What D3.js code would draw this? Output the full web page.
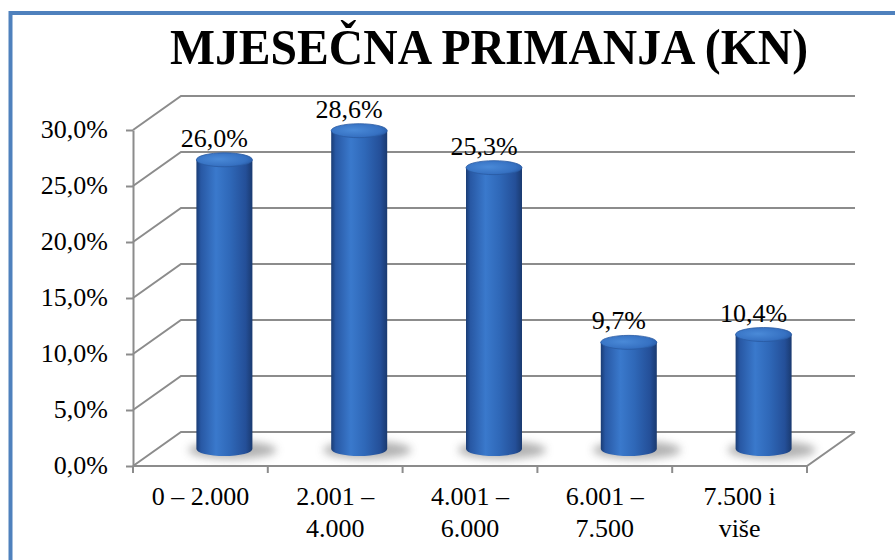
<!DOCTYPE html>
<html>
<head>
<meta charset="utf-8">
<script src="https://cdn.jsdelivr.net/npm/d3@7"></script>
<style>
  body { margin: 0; background: #fff; }
</style>
</head>
<body>
<script>
var categories = ['0 – 2.000', '2.001 – 4.000', '4.001 – 6.000', '6.001 – 7.500', '7.500 i više'];
var labelLines = [['0 – 2.000'], ['2.001 –', '4.000'], ['4.001 –', '6.000'], ['6.001 –', '7.500'], ['7.500 i', 'više']];
var values = [26.0, 28.6, 25.3, 9.7, 10.4];
var yTicks = [0, 5, 10, 15, 20, 25, 30];

var W = 895, H = 560;
var dx = 48, dy = -34;          // depth of the 3d box
var gridColor = '#8c8c8c';
var serif = 'Liberation Serif';
var fs = 26;

var fmt = function(v) { return v.toFixed(1).replace('.', ',') + '%'; };

var x = d3.scaleBand()
    .domain(categories)
    .range([133, 807])
    .padding(0);

var y = d3.scaleLinear()
    .domain([0, 30])
    .range([466, 130]);

var svg = d3.select('body')
    .append('svg')
    .attr('width', W)
    .attr('height', H)
    .attr('font-family', serif);

var defs = svg.append('defs');

var bodyGrad = defs.append('linearGradient')
    .attr('id', 'cyl')
    .attr('x1', 0).attr('x2', 1).attr('y1', 0).attr('y2', 0);
[[0, '#1a3c74'], [0.08, '#2858a4'], [0.35, '#3a79cc'], [0.6, '#2f68b8'], [0.88, '#244f98'], [1, '#1a3a70']]
    .forEach(function(s) { bodyGrad.append('stop').attr('offset', s[0]).attr('stop-color', s[1]); });

var topGrad = defs.append('radialGradient')
    .attr('id', 'cyltop')
    .attr('cx', 0.4).attr('cy', 0.45).attr('r', 0.7);
[[0, '#4a8ad8'], [0.7, '#3671c2'], [1, '#24549e']]
    .forEach(function(s) { topGrad.append('stop').attr('offset', s[0]).attr('stop-color', s[1]); });

defs.append('filter')
    .attr('id', 'blur')
    .attr('x', '-50%').attr('y', '-100%').attr('width', '200%').attr('height', '300%')
    .append('feGaussianBlur')
    .attr('stdDeviation', 4);

// frame
svg.append('path')
    .attr('d', 'M10.5,' + H + 'V13H' + W)
    .attr('fill', 'none')
    .attr('stroke', '#4f81bd')
    .attr('stroke-width', 4);

// title
svg.append('text')
    .attr('x', 489)
    .attr('y', 64)
    .attr('text-anchor', 'middle')
    .attr('font-family', serif)
    .attr('font-size', 50)
    .attr('font-weight', 'bold')
    .attr('textLength', 638)
    .attr('lengthAdjust', 'spacingAndGlyphs')
    .text('MJESEČNA PRIMANJA (KN)');

var x0 = x.range()[0], x1 = x.range()[1];

// back wall gridlines + side wall diagonals
var grid = svg.append('g')
    .attr('fill', 'none')
    .attr('stroke', gridColor)
    .attr('stroke-width', 2);

grid.selectAll('path.g')
    .data(yTicks)
    .enter()
    .append('path')
    .attr('class', 'g')
    .attr('d', function(d) {
        return 'M' + x0 + ',' + y(d) + 'L' + (x0 + dx) + ',' + (y(d) + dy) + 'H' + (x1 + dx);
    });

// floor
grid.append('path')
    .attr('d', 'M' + x0 + ',' + y(0) + 'H' + x1 + 'L' + (x1 + dx) + ',' + (y(0) + dy));

// y axis
var yAxis = svg.append('g')
    .attr('transform', 'translate(' + x0 + ',0)')
    .call(d3.axisLeft(y).tickValues(yTicks).tickFormat(fmt).tickSize(7).tickSizeOuter(0).tickPadding(18));

yAxis.attr('font-family', serif).attr('font-size', fs);
yAxis.select('.domain').attr('stroke', gridColor).attr('stroke-width', 2);
yAxis.selectAll('.tick line').attr('stroke', gridColor).attr('stroke-width', 2);
yAxis.selectAll('.tick text')
    .attr('font-family', serif)
    .attr('font-size', fs)
    .attr('fill', '#000')
    .attr('dy', '0.3em');

// x axis ticks at band edges
var edges = categories.map(function(c) { return x(c); }).concat([x1]);
svg.append('g')
    .selectAll('line')
    .data(edges)
    .enter()
    .append('line')
    .attr('x1', function(d) { return d; })
    .attr('x2', function(d) { return d; })
    .attr('y1', y(0))
    .attr('y2', y(0) + 7)
    .attr('stroke', gridColor)
    .attr('stroke-width', 2);

// category labels
var catLabels = svg.append('g')
    .selectAll('text')
    .data(categories)
    .enter()
    .append('text')
    .attr('text-anchor', 'middle')
    .attr('font-family', serif)
    .attr('font-size', fs)
    .attr('y', 505);

catLabels.selectAll('tspan')
    .data(function(d, i) { return labelLines[i].map(function(l) { return { c: d, t: l }; }); })
    .enter()
    .append('tspan')
    .attr('x', function(d) { return x(d.c) + x.bandwidth() / 2; })
    .attr('dy', function(d, i) { return i === 0 ? 0 : 32; })
    .text(function(d) { return d.t; });

// cylinders
var rx = 28, ry = 7;
var cx = function(c) { return x(c) + x.bandwidth() / 2 + dx / 2; };
var baseY = y(0) + dy / 2;
var topY = function(v) { return y(v) + dy / 2 + 2; };

var cyl = svg.append('g')
    .selectAll('g')
    .data(values)
    .enter()
    .append('g');

cyl.append('ellipse')
    .attr('cx', function(d, i) { return cx(categories[i]) + 8; })
    .attr('cy', baseY + 1)
    .attr('rx', rx + 16)
    .attr('ry', ry + 2)
    .attr('fill', '#666')
    .attr('opacity', 0.5)
    .attr('filter', 'url(#blur)');

cyl.append('path')
    .attr('fill', 'url(#cyl)')
    .attr('d', function(d, i) {
        var c = cx(categories[i]), t = topY(d);
        return 'M' + (c - rx) + ',' + t +
            'V' + baseY +
            'A' + rx + ',' + ry + ' 0 0 0 ' + (c + rx) + ',' + baseY +
            'V' + t + 'Z';
    });

cyl.append('ellipse')
    .attr('cx', function(d, i) { return cx(categories[i]); })
    .attr('cy', function(d) { return topY(d); })
    .attr('rx', rx)
    .attr('ry', ry)
    .attr('fill', 'url(#cyltop)')
    .attr('stroke', '#2a5aa2')
    .attr('stroke-width', 0.8);

// value labels
svg.append('g')
    .selectAll('text')
    .data(values)
    .enter()
    .append('text')
    .attr('text-anchor', 'middle')
    .attr('font-family', serif)
    .attr('font-size', fs)
    .attr('x', function(d, i) { return cx(categories[i]) - 10; })
    .attr('y', function(d) { return topY(d) - ry - 6; })
    .text(fmt);
</script>
</body>
</html>
